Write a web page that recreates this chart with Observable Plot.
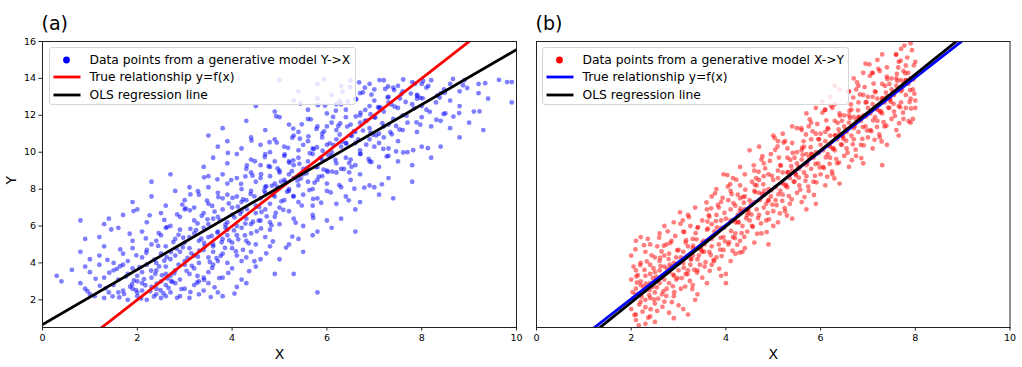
<!DOCTYPE html>
<html><head><meta charset="utf-8">
<script src="https://cdn.jsdelivr.net/npm/d3@7"></script>
<script src="https://cdn.jsdelivr.net/npm/@observablehq/plot@0.6"></script>
<style>
body{margin:0;background:#fff;font-family:"DejaVu Sans",sans-serif;}
#wrap{position:relative;width:1022px;height:367px;overflow:hidden;background:#fff;}
#wrap svg{position:absolute;top:0;}
.legend{position:absolute;box-sizing:border-box;border:1px solid #d6d6d6;border-radius:3px;background:rgba(255,255,255,0.8);}
.legend .row{position:absolute;left:0;height:16px;width:100%;}
.legend .row span{position:absolute;font-size:12.3px;line-height:16px;top:0;color:#000;white-space:nowrap;}
.legend .row svg{position:absolute;top:0;left:0;}
</style></head><body><div id="wrap"></div><script>
const xTicks=[0,2,4,6,8,10];
const yTicks=[2,4,6,8,10,12,14,16];
const xDomain=[0,10];
const yDomain=[0.5,16];

// panel (a): generative model Y->X
const pointsA=[
[0.8,2.9],[0.9,2.6],[1.0,2.3],[1.1,2.2],[1.3,2.1],[1.5,2.8],[1.6,2.4],[1.8,2.0],[1.9,2.6],[2.0,2.2],[2.1,2.9],[2.1,2.5],[2.2,2.0],[2.3,2.7],[2.4,2.3],[2.5,2.1],[2.6,2.8],[2.7,2.4],[2.8,2.9],[2.9,2.2],[3.0,2.6],[3.1,2.1],[3.2,2.8],[3.4,2.5],[3.5,2.9],[3.7,2.4],[3.8,2.2],[4.1,2.7],[4.3,2.9],[1.7,2.5],[2.4,2.6],[2.0,2.4],[2.6,2.2],[3.3,2.3],[1.4,2.4],[5.8,2.4],
[1.62,2.13],[2.27,2.46],[1.85,2.71],[2.55,2.35],[2.93,2.58],[1.33,2.62],[2.41,2.88],[2.08,2.07],[3.12,2.42],[1.72,2.31],[2.66,2.64],[3.55,2.15],[2.17,2.79],[1.48,2.19],[2.84,2.11],[3.26,2.93],[1.97,2.53],[2.35,2.18],[0.95,2.47],[2.74,2.97],[4.05,2.34],[1.21,2.76],[3.63,2.68],[2.49,2.52],[1.89,2.85],
[0.3,3.3],[0.4,3.0],[0.9,3.8],[1.0,3.5],[1.2,3.9],[1.3,3.2],[1.5,3.6],[1.6,3.1],[1.7,3.9],[1.8,3.4],[1.9,3.7],[2.0,3.0],[2.1,3.5],[2.2,3.9],[2.3,3.2],[2.4,3.6],[2.5,3.0],[2.6,3.8],[2.7,3.3],[2.8,3.6],[2.9,3.1],[3.0,3.9],[3.1,3.4],[3.2,3.7],[3.3,3.0],[3.5,3.5],[3.6,3.9],[3.8,3.2],[4.0,3.7],[4.2,3.1],[4.5,3.8],[5.3,3.4],[2.0,3.3],[2.6,3.4],[3.4,3.2],[4.9,3.4],
[2.14,3.12],[2.78,3.44],[1.57,3.68],[3.27,3.29],[2.46,3.81],[1.93,3.05],[3.04,3.57],[2.63,3.16],[1.41,3.47],[3.58,3.73],[2.29,3.58],[2.87,3.91],[3.41,3.08],[1.76,3.26],[2.52,3.33],[3.15,3.84],[1.12,3.14],[3.92,3.46],[2.05,3.77],[2.71,3.02],[4.36,3.55],[1.64,3.82],[3.73,3.18],[2.38,3.41],[0.62,3.62],
[0.8,4.6],[1.0,4.2],[1.3,4.9],[1.5,4.0],[1.7,4.5],[1.8,4.1],[1.9,4.8],[2.1,4.3],[2.2,4.7],[2.4,4.0],[2.5,4.5],[2.6,4.9],[2.7,4.2],[2.9,4.6],[3.0,4.1],[3.1,4.8],[3.2,4.4],[3.3,4.0],[3.4,4.7],[3.5,4.3],[3.6,4.9],[3.7,4.1],[3.8,4.5],[3.9,4.0],[4.0,4.8],[4.1,4.4],[4.2,4.1],[4.4,4.6],[4.6,4.2],[4.8,4.9],[5.0,4.2],[5.5,4.6],[2.8,4.4],[3.6,4.6],[4.3,4.3],[1.2,4.4],
[2.36,4.18],[3.14,4.52],[2.83,4.77],[3.67,4.26],[1.98,4.41],[3.42,4.88],[2.57,4.12],[4.08,4.63],[3.28,4.34],[2.71,4.59],[3.85,4.81],[1.64,4.73],[4.47,4.09],[3.06,4.27],[2.44,4.92],[3.53,4.05],[4.23,4.71],[2.19,4.55],[3.76,4.38],[2.96,4.85],[1.37,4.16],[4.72,4.52],[3.31,4.66],[2.62,4.31],[5.14,4.83],
[0.9,5.3],[1.2,5.4],[1.6,5.9],[1.9,5.2],[2.1,5.7],[2.3,5.0],[2.5,5.5],[2.6,5.9],[2.8,5.3],[2.9,5.8],[3.0,5.1],[3.2,5.6],[3.3,5.2],[3.4,5.9],[3.5,5.4],[3.6,5.0],[3.7,5.7],[3.8,5.3],[3.9,5.8],[4.0,5.1],[4.1,5.5],[4.2,5.9],[4.3,5.2],[4.4,5.6],[4.5,5.0],[4.7,5.4],[4.8,5.8],[5.2,5.0],[5.4,5.3],[5.7,5.5],[5.8,5.7],[6.1,5.9],[3.1,5.4],[3.9,5.5],[2.4,5.2],[6.6,5.7],
[2.76,5.13],[3.57,5.46],[3.24,5.77],[4.13,5.28],[2.45,5.62],[3.86,5.91],[2.97,5.37],[4.52,5.71],[3.41,5.08],[3.12,5.84],[4.27,5.49],[2.18,5.33],[4.86,5.16],[3.69,5.64],[2.63,5.94],[3.94,5.22],[4.61,5.87],[1.84,5.58],[3.35,5.31],[4.04,5.76],[2.87,5.52],[5.27,5.43],[3.78,5.12],[1.45,5.81],[4.35,5.06],
[0.8,6.3],[1.3,6.1],[1.4,6.4],[1.7,6.6],[2.0,6.9],[2.2,6.2],[2.5,6.7],[2.7,6.0],[2.9,6.5],[3.0,6.9],[3.2,6.3],[3.4,6.7],[3.5,6.1],[3.7,6.5],[3.8,6.9],[3.9,6.2],[4.0,6.6],[4.1,6.0],[4.2,6.8],[4.3,6.4],[4.4,6.1],[4.5,6.7],[4.6,6.3],[4.7,6.9],[4.9,6.5],[5.0,6.1],[5.2,6.8],[5.3,6.4],[5.5,6.0],[5.7,6.6],[6.0,6.3],[6.3,6.4],[6.6,6.9],[3.6,6.4],[4.8,6.2],
[3.27,6.14],[4.05,6.47],[3.63,6.78],[4.56,6.29],[2.84,6.63],[4.31,6.92],[3.48,6.36],[4.92,6.71],[3.86,6.07],[3.11,6.85],[4.73,6.52],[2.57,6.33],[5.34,6.18],[4.17,6.66],[3.02,6.96],[4.44,6.23],[5.08,6.88],[2.26,6.58],[3.74,6.31],[4.62,6.76],[3.36,6.55],[5.71,6.44],[4.28,6.13],[1.92,6.81],[4.83,6.04],
[1.9,7.3],[2.3,7.6],[2.6,7.1],[2.8,7.9],[3.0,7.4],[3.2,7.0],[3.3,7.7],[3.5,7.2],[3.7,7.8],[3.8,7.5],[4.0,7.0],[4.1,7.6],[4.2,7.3],[4.4,7.9],[4.5,7.1],[4.6,7.5],[4.7,7.8],[4.8,7.2],[4.9,7.6],[5.0,7.0],[5.1,7.4],[5.2,7.9],[5.4,7.3],[5.5,7.7],[5.7,7.1],[5.8,7.5],[6.0,7.9],[6.2,7.2],[6.4,7.6],[6.7,7.3],[7.1,7.7],[7.4,7.5],[4.3,7.4],[5.3,7.6],[3.9,7.7],
[4.12,7.05],[3.47,7.38],[5.29,7.62],[4.68,7.91],[3.93,7.22],[5.71,7.47],[4.39,7.73],[2.95,7.16],[5.04,7.34],[4.57,7.03],[3.71,7.57],[6.08,7.82],[4.86,7.68],[3.28,7.89],[5.47,7.11],[4.23,7.44],[5.88,7.26],[4.94,7.97],[3.58,7.09],[4.47,7.61],[6.46,7.39],[3.12,7.71],[5.16,7.86],[4.01,7.52],[5.63,7.95],
[2.3,8.4],[2.7,8.8],[3.1,8.1],[3.5,8.7],[3.5,8.1],[3.8,8.8],[3.9,8.3],[4.1,8.6],[4.2,8.0],[4.4,8.9],[4.5,8.4],[4.7,8.1],[4.8,8.7],[4.9,8.3],[5.0,8.9],[5.1,8.5],[5.2,8.0],[5.3,8.6],[5.4,8.2],[5.5,8.8],[5.6,8.4],[5.7,8.0],[5.9,8.7],[6.0,8.3],[6.2,8.9],[6.3,8.1],[6.5,8.5],[6.7,8.8],[6.9,8.2],[7.0,8.1],[7.3,8.6],[7.8,8.4],[4.6,8.6],[5.8,8.5],[5.2,8.8],
[5.38,8.46],[4.72,8.16],[6.11,8.95],[4.19,8.28],[5.83,8.68],[5.12,8.39],[3.69,8.53],[6.47,8.91],[4.95,8.12],[5.57,8.86],[4.43,8.73],[6.26,8.22],[3.98,8.49],[5.26,8.97],[6.79,8.08],[4.61,8.81],[5.74,8.35],[3.41,8.64],[4.84,8.18],[6.02,8.93],[5.45,8.57],[4.28,8.69],[7.16,8.26],[5.03,8.41],[6.58,8.02],
[3.4,9.2],[3.6,9.7],[3.9,9.4],[4.1,9.9],[4.3,9.1],[4.4,9.6],[4.6,9.3],[4.7,9.9],[4.9,9.5],[5.0,9.0],[5.1,9.8],[5.3,9.3],[5.4,9.7],[5.5,9.1],[5.6,9.5],[5.7,9.9],[5.8,9.2],[5.9,9.6],[6.0,9.0],[6.1,9.8],[6.2,9.4],[6.3,9.1],[6.4,9.7],[6.6,9.3],[6.7,9.9],[6.9,9.5],[7.1,9.2],[7.3,9.8],[7.5,9.5],[7.8,9.3],[8.2,9.7],[5.2,9.5],[6.5,9.6],[4.8,9.2],
[5.93,9.06],[5.21,9.43],[6.52,9.21],[4.69,9.74],[6.18,9.58],[5.64,9.95],[4.31,9.28],[6.88,9.64],[5.42,9.37],[6.03,9.84],[4.96,9.12],[6.71,9.91],[4.48,9.51],[5.77,9.19],[7.26,9.77],[5.11,9.88],[6.36,9.09],[3.91,9.96],[5.29,9.56],[6.47,9.41],[5.86,9.69],[4.77,9.24],[7.61,9.99],[5.58,9.15],[6.94,9.47],
[3.5,10.9],[3.7,10.3],[3.9,10.6],[4.2,10.2],[4.4,10.8],[4.6,10.4],[4.8,10.0],[4.9,10.7],[5.1,10.3],[5.3,10.9],[5.4,10.1],[5.6,10.6],[5.7,10.2],[5.9,10.8],[6.0,10.4],[6.1,10.0],[6.2,10.7],[6.3,10.3],[6.5,10.9],[6.6,10.5],[6.7,10.1],[6.9,10.7],[7.0,10.3],[7.2,10.8],[7.3,10.2],[7.5,10.6],[7.7,10.0],[8.0,10.3],[8.4,10.3],[8.8,10.8],[6.4,10.5],[5.5,10.4],[7.1,10.5],
[6.41,10.46],[5.72,10.16],[7.04,10.91],[5.18,10.24],[6.66,10.69],[6.14,10.39],[4.79,10.54],[7.37,10.97],[5.91,10.08],[6.53,10.89],[5.43,10.73],[7.19,10.18],[4.94,10.52],[6.27,10.96],[7.82,10.11],[5.61,10.86],[6.83,10.41],[4.41,10.63],[5.79,10.27],[6.97,10.94],[6.32,10.57],[5.27,10.79],[8.13,10.22],[6.06,10.48],[7.46,10.04],
[3.8,11.3],[4.3,11.7],[4.7,11.2],[5.0,11.9],[5.2,11.5],[5.4,11.1],[5.6,11.8],[5.8,11.4],[5.9,11.0],[6.1,11.6],[6.2,11.2],[6.4,11.9],[6.5,11.5],[6.6,11.1],[6.8,11.7],[6.9,11.3],[7.0,11.9],[7.1,11.0],[7.3,11.5],[7.4,11.8],[7.6,11.2],[7.7,11.6],[7.9,11.1],[8.0,11.9],[8.2,11.4],[8.4,11.7],[8.6,11.3],[9.0,11.6],[9.3,11.2],[6.0,11.4],[7.2,11.4],[6.7,11.6],
[6.92,11.06],[6.24,11.42],[7.53,11.23],[5.66,11.78],[7.17,11.57],[6.61,11.94],[5.29,11.28],[7.89,11.62],[6.43,11.39],[7.02,11.87],[5.94,11.13],[7.68,11.98],[5.47,11.51],[6.76,11.17],[8.31,11.76],[6.13,11.91],[7.34,11.09],[4.93,11.95],[6.28,11.56],[7.46,11.42],[6.84,11.71],[5.78,11.26],[8.67,11.93],[6.57,11.14],[7.97,11.49],
[4.5,12.5],[4.9,12.2],[5.3,12.8],[5.6,12.3],[5.8,12.9],[6.0,12.1],[6.2,12.6],[6.4,12.3],[6.6,12.9],[6.7,12.0],[6.9,12.5],[7.0,12.8],[7.2,12.2],[7.3,12.7],[7.5,12.4],[7.6,12.0],[7.8,12.6],[7.9,12.9],[8.1,12.3],[8.3,12.7],[8.5,12.1],[8.6,12.8],[8.8,12.5],[9.1,12.2],[9.4,12.9],[9.9,12.7],[7.1,12.4],[8.0,12.5],[6.3,12.6],
[7.43,12.47],[6.71,12.15],[8.02,12.92],[6.19,12.25],[7.66,12.72],[7.13,12.43],[5.81,12.55],[8.38,12.96],[6.92,12.06],[7.54,12.91],[6.44,12.74],[8.17,12.19],[5.96,12.53],[7.28,12.97],[8.79,12.12],[6.62,12.86],[7.84,12.38],[5.44,12.64],[6.81,12.29],[7.97,12.95],[7.36,12.58],[6.27,12.77],[9.22,12.21],[7.08,12.44],[8.46,12.07],
[5.0,13.9],[5.4,13.3],[5.8,13.7],[6.1,13.1],[6.3,13.6],[6.5,13.9],[6.7,13.2],[6.9,13.7],[7.0,13.4],[7.2,13.9],[7.3,13.0],[7.5,13.6],[7.6,13.3],[7.8,13.8],[7.9,13.1],[8.1,13.5],[8.2,13.9],[8.4,13.2],[8.6,13.7],[8.8,13.3],[8.9,13.9],[9.2,13.7],[9.2,13.2],[9.8,13.8],[9.9,13.8],[7.4,13.5],[8.0,13.7],[6.8,13.5],
[7.91,13.06],[7.23,13.43],[8.49,13.22],[6.68,13.78],[8.14,13.59],[7.61,13.94],[6.33,13.28],[8.87,13.63],[7.42,13.37],[8.03,13.86],[6.94,13.12],[8.66,13.97],[6.49,13.52],[7.77,13.18],[9.34,13.74],[7.11,13.91],[8.33,13.08],[5.94,13.96],[7.29,13.56],[8.47,13.41],[7.86,13.71],[6.76,13.24],[9.63,13.92],[7.57,13.15],[8.96,13.48]
];

// panel (b): generative model X->Y
const pointsB=[
[2.0,1.5],[2.0,3.1],[2.0,4.4],[2.1,0.9],[2.1,2.3],[2.1,5.2],[2.1,1.2],[2.1,3.6],[2.2,2.8],[2.2,1.9],[2.2,4.0],[2.2,5.4],[2.3,0.7],[2.3,2.5],[2.3,3.3],[2.3,1.6],[2.3,4.6],[2.4,2.1],[2.4,3.9],[2.4,1.1],[2.4,2.9],[2.4,5.0],[2.5,0.8],[2.5,3.5],[2.5,2.4],[2.5,4.3],[2.5,1.8],[2.2,3.0],[2.4,3.4],[2.1,2.6],[2.3,2.0],[2.45,2.7],[2.05,3.8],[2.35,5.3],
[2.03,2.41],[2.17,1.74],[2.28,3.62],[2.12,2.93],[2.38,2.26],[2.07,1.18],[2.46,3.17],[2.22,2.17],[2.33,4.08],[2.14,3.34],[2.41,1.49],[2.26,2.71],[2.09,4.73],[2.48,2.02],[2.19,3.88],[2.36,1.03],[2.04,2.08],[2.43,4.41],[2.31,2.88],[2.24,1.36],[2.11,3.27],[2.47,3.71],[2.16,0.61],[2.39,2.53],[2.27,4.96],
[2.55,1.4],[2.6,2.9],[2.6,4.1],[2.6,5.6],[2.65,3.3],[2.7,1.9],[2.7,3.8],[2.7,6.0],[2.75,2.6],[2.8,4.5],[2.8,1.3],[2.8,3.5],[2.85,5.2],[2.9,2.2],[2.9,4.0],[2.9,6.2],[2.95,3.1],[3.0,1.7],[3.0,4.7],[3.0,3.6],[2.6,3.6],[2.7,4.4],[2.8,2.9],[2.9,3.3],[2.75,5.0],[2.65,2.3],[2.95,4.3],[2.85,3.8],[2.55,4.9],[2.7,3.1],[2.9,1.0],
[2.53,3.24],[2.68,2.47],[2.79,4.21],[2.62,3.83],[2.88,2.73],[2.57,2.06],[2.96,3.94],[2.72,3.42],[2.83,5.08],[2.64,4.62],[2.91,2.41],[2.76,3.69],[2.59,5.37],[2.98,3.18],[2.69,4.93],[2.86,1.87],[2.54,2.68],[2.93,5.46],[2.81,3.91],[2.74,2.21],[2.61,4.27],[2.97,4.68],[2.66,1.62],[2.89,3.37],[2.77,5.71],
[3.05,2.6],[3.1,4.0],[3.1,5.7],[3.1,1.5],[3.15,3.4],[3.2,4.9],[3.2,6.6],[3.2,1.2],[3.25,3.9],[3.3,2.8],[3.3,5.3],[3.3,4.4],[3.35,7.0],[3.4,3.6],[3.4,5.9],[3.4,2.3],[3.45,4.8],[3.5,6.3],[3.5,3.2],[3.5,5.1],[3.1,4.6],[3.2,3.6],[3.3,4.8],[3.4,4.2],[3.15,5.1],[3.25,6.0],[3.45,3.9],[3.35,2.0],[3.05,4.3],[3.5,4.6],
[3.03,6.74],[3.18,4.37],[3.29,2.58],[3.12,5.67],[3.38,5.28],[3.07,3.18],[3.46,4.91],[3.22,6.48],[3.33,3.63],[3.14,2.72],[3.41,5.94],[3.26,4.19],[3.09,6.31],[3.48,4.68],[3.19,3.39],[3.36,5.61],[3.04,6.12],[3.43,4.41],[3.31,4.93],[3.24,3.02],[3.11,3.74],[3.47,4.84],[3.16,5.23],[3.39,3.47],[3.27,4.21],
[3.55,3.8],[3.6,5.2],[3.6,6.9],[3.6,2.9],[3.65,4.6],[3.7,6.1],[3.7,7.6],[3.7,3.9],[3.75,5.5],[3.8,4.3],[3.8,6.6],[3.8,8.0],[3.85,5.0],[3.9,3.3],[3.9,5.9],[3.9,7.3],[3.95,4.7],[3.95,8.8],[4.0,2.9],[4.0,6.4],[3.6,5.8],[3.7,4.9],[3.8,5.6],[3.9,6.3],[3.65,6.5],[3.75,4.1],[3.85,7.0],[3.55,5.0],[3.95,5.4],[3.7,5.3],[4.0,3.4],
[3.53,5.19],[3.68,4.43],[3.79,6.27],[3.62,5.86],[3.88,4.72],[3.57,4.04],[3.96,5.91],[3.72,5.44],[3.83,7.14],[3.64,6.59],[3.91,4.37],[3.76,5.71],[3.59,7.28],[3.98,5.17],[3.69,6.96],[3.86,3.68],[3.54,4.61],[3.93,7.52],[3.81,5.93],[3.74,4.16],[3.61,6.24],[3.97,6.71],[3.66,3.57],[3.89,5.36],[3.77,7.77],
[4.05,5.0],[4.1,6.3],[4.1,7.9],[4.1,4.1],[4.15,8.6],[4.2,5.6],[4.2,7.1],[4.2,4.5],[4.25,6.6],[4.3,8.2],[4.3,5.2],[4.3,7.5],[4.35,6.0],[4.4,4.8],[4.4,6.9],[4.4,8.8],[4.45,5.7],[4.5,7.4],[4.5,10.1],[4.5,6.3],[4.1,6.9],[4.2,6.2],[4.3,6.8],[4.4,7.6],[4.15,5.4],[4.25,7.7],[4.35,4.6],[4.05,7.4],[4.45,6.6],[4.3,9.2],
[4.03,8.76],[4.18,6.34],[4.29,4.56],[4.12,7.73],[4.38,7.26],[4.07,5.12],[4.46,6.92],[4.22,8.51],[4.33,5.62],[4.14,4.66],[4.41,7.97],[4.26,6.18],[4.09,8.27],[4.48,6.71],[4.19,5.34],[4.36,7.58],[4.04,8.13],[4.43,6.42],[4.31,6.94],[4.24,4.98],[4.11,5.73],[4.47,6.87],[4.16,7.24],[4.39,5.41],[4.27,6.22],
[4.55,6.0],[4.6,7.3],[4.6,9.0],[4.6,5.1],[4.65,8.2],[4.7,6.6],[4.7,10.3],[4.7,7.8],[4.75,5.6],[4.8,8.7],[4.8,7.0],[4.8,9.4],[4.85,6.3],[4.9,5.0],[4.9,8.0],[4.9,7.4],[4.95,9.9],[5.0,6.8],[5.0,8.5],[5.0,10.9],[4.6,7.9],[4.7,8.5],[4.8,7.7],[4.9,8.8],[4.65,6.9],[4.75,9.6],[4.85,7.2],[4.55,8.4],[4.95,7.6],[5.0,6.0],
[4.53,7.19],[4.68,6.43],[4.79,8.26],[4.62,7.84],[4.88,6.71],[4.57,5.96],[4.96,7.93],[4.72,7.41],[4.83,9.12],[4.64,8.59],[4.91,6.36],[4.76,7.73],[4.59,9.29],[4.98,7.16],[4.69,8.94],[4.86,5.67],[4.54,6.62],[4.93,9.53],[4.81,7.91],[4.74,6.14],[4.61,8.23],[4.97,8.72],[4.66,5.58],[4.89,7.37],[4.77,9.78],
[5.05,7.4],[5.1,8.6],[5.1,10.6],[5.1,6.2],[5.15,9.3],[5.2,7.7],[5.2,11.0],[5.2,8.9],[5.25,6.8],[5.3,9.7],[5.3,8.1],[5.3,10.2],[5.35,7.2],[5.4,9.0],[5.4,11.4],[5.4,6.4],[5.45,8.4],[5.5,10.0],[5.5,7.8],[5.5,9.4],[5.1,9.0],[5.2,8.3],[5.3,8.9],[5.4,10.5],[5.15,7.9],[5.25,10.6],[5.35,8.6],[5.05,8.1],[5.45,9.7],[5.5,11.3],
[5.03,10.77],[5.18,8.36],[5.29,6.57],[5.12,9.71],[5.38,9.24],[5.07,7.13],[5.46,8.92],[5.22,10.52],[5.33,7.62],[5.14,6.68],[5.41,9.96],[5.26,8.17],[5.09,10.31],[5.48,8.74],[5.19,7.36],[5.36,9.58],[5.04,10.13],[5.43,8.41],[5.31,8.92],[5.24,6.97],[5.11,7.71],[5.47,8.83],[5.16,9.27],[5.39,7.44],[5.27,8.23],
[5.55,8.2],[5.6,9.6],[5.6,11.2],[5.6,7.3],[5.65,10.3],[5.7,8.7],[5.7,12.1],[5.7,9.9],[5.75,7.9],[5.8,10.7],[5.8,9.1],[5.8,11.6],[5.85,8.4],[5.9,10.0],[5.9,12.4],[5.9,7.2],[5.95,9.4],[6.0,11.0],[6.0,8.8],[6.0,10.4],[5.6,10.1],[5.7,9.3],[5.8,9.9],[5.9,11.0],[5.65,8.9],[5.75,11.4],[5.85,9.7],[5.55,9.1],[5.95,10.7],[5.7,6.9],
[5.53,9.21],[5.68,8.45],[5.79,10.27],[5.62,9.86],[5.88,8.72],[5.57,7.97],[5.96,9.94],[5.72,9.42],[5.83,11.13],[5.64,10.59],[5.91,8.37],[5.76,9.73],[5.59,11.31],[5.98,9.17],[5.69,10.96],[5.86,7.68],[5.54,8.62],[5.93,11.53],[5.81,9.91],[5.74,8.14],[5.61,10.24],[5.97,10.71],[5.66,7.57],[5.89,9.36],[5.77,11.78],
[6.05,9.2],[6.1,10.6],[6.1,12.3],[6.1,8.2],[6.15,11.3],[6.2,9.7],[6.2,13.0],[6.2,10.9],[6.25,8.8],[6.3,11.7],[6.3,10.1],[6.3,12.6],[6.35,9.4],[6.4,11.0],[6.4,13.4],[6.4,8.3],[6.45,10.4],[6.5,12.0],[6.5,9.8],[6.5,11.4],[6.1,11.1],[6.2,10.3],[6.3,10.9],[6.4,12.1],[6.15,9.9],[6.25,12.4],[6.35,10.7],[6.05,10.1],[6.45,11.7],[6.3,13.6],
[6.03,12.76],[6.18,10.36],[6.29,8.58],[6.12,11.72],[6.38,11.23],[6.07,9.14],[6.46,10.92],[6.22,12.52],[6.33,9.63],[6.14,8.67],[6.41,11.97],[6.26,10.18],[6.09,12.29],[6.48,10.73],[6.19,9.37],[6.36,11.59],[6.04,12.14],[6.43,10.42],[6.31,10.93],[6.24,8.96],[6.11,9.72],[6.47,10.85],[6.16,11.26],[6.39,9.44],[6.27,10.22],
[6.55,10.2],[6.6,11.6],[6.6,13.3],[6.6,9.2],[6.65,12.3],[6.7,10.7],[6.7,14.0],[6.7,11.9],[6.75,9.8],[6.8,12.7],[6.8,11.1],[6.8,13.6],[6.85,10.4],[6.9,12.0],[6.9,14.3],[6.9,9.4],[6.95,11.4],[7.0,13.0],[7.0,10.8],[7.0,12.4],[6.6,12.0],[6.7,11.3],[6.8,11.9],[6.9,13.1],[6.65,10.9],[6.75,13.4],[6.85,11.7],[6.55,11.1],[6.95,12.7],[6.95,14.8],
[6.53,11.21],[6.68,10.43],[6.79,12.27],[6.62,11.86],[6.88,10.72],[6.57,9.97],[6.96,11.94],[6.72,11.41],[6.83,13.13],[6.64,12.59],[6.91,10.37],[6.76,11.73],[6.59,13.29],[6.98,11.17],[6.69,12.96],[6.86,9.68],[6.54,10.62],[6.93,13.53],[6.81,11.91],[6.74,10.14],[6.61,12.24],[6.97,12.71],[6.66,9.57],[6.89,11.36],[6.77,13.78],
[7.05,11.2],[7.1,12.6],[7.1,14.3],[7.1,10.2],[7.15,13.3],[7.2,11.7],[7.2,15.0],[7.2,12.9],[7.25,10.8],[7.3,13.7],[7.3,12.1],[7.3,9.3],[7.35,11.4],[7.4,13.0],[7.4,14.6],[7.4,10.4],[7.45,12.4],[7.5,14.0],[7.5,11.8],[7.5,13.4],[7.1,13.0],[7.2,12.3],[7.3,12.9],[7.4,14.1],[7.15,11.9],[7.25,14.4],[7.35,12.7],[7.05,12.1],[7.45,13.7],[7.3,15.3],
[7.03,14.76],[7.18,12.36],[7.29,10.58],[7.12,13.72],[7.38,13.23],[7.07,11.14],[7.46,12.92],[7.22,14.52],[7.33,11.63],[7.14,10.67],[7.41,13.97],[7.26,12.18],[7.09,14.29],[7.48,12.73],[7.19,11.37],[7.36,13.59],[7.04,14.14],[7.43,12.42],[7.31,12.93],[7.24,10.96],[7.11,11.72],[7.47,12.85],[7.16,13.26],[7.39,11.44],[7.27,12.22],
[7.55,12.2],[7.6,13.6],[7.6,15.3],[7.6,11.2],[7.65,10.9],[7.7,12.7],[7.7,15.6],[7.7,13.9],[7.75,11.8],[7.8,14.7],[7.8,13.1],[7.8,12.4],[7.85,14.3],[7.9,14.0],[7.9,15.9],[7.9,11.6],[7.95,13.4],[8.0,14.9],[8.0,12.8],[8.0,12.4],[7.6,14.0],[7.7,13.3],[7.8,13.9],[7.9,12.9],[7.65,14.9],[7.75,14.4],[7.85,13.7],[7.55,13.1],[7.95,11.8],[7.65,12.5],
[7.53,13.21],[7.68,12.43],[7.79,14.27],[7.62,13.86],[7.88,12.72],[7.57,11.97],[7.96,13.94],[7.72,13.41],[7.83,15.13],[7.64,14.59],[7.91,12.37],[7.76,13.73],[7.59,15.29],[7.98,13.17],[7.69,14.96],[7.86,11.68],[7.54,12.62],[7.93,15.53],[7.81,13.91],[7.74,12.14],[7.61,14.24],[7.97,14.71],[7.66,11.57],[7.89,13.36],[7.77,15.78]
];

// straight lines: y = slope * x + intercept
const lineLabelsA=["True relationship y=f(x)","OLS regression line"];
const lineSlopesA=[2.0,1.49];
const lineInterceptsA=[-2.0,0.66];
const lineColorsA=["#ff0000","#000000"];
const lineLabelsB=["True relationship y=f(x)","OLS regression line"];
const lineSlopesB=[2.0,2.06];
const lineInterceptsB=[-1.95,-2.26];
const lineColorsB=["#0000ff","#000000"];
const dotLabelA="Data points from a generative model Y->X";
const dotLabelB="Data points from a generative model X->Y";

function lineMarks(slopes,intercepts,colors){
  return slopes.map((s,i)=>Plot.line(xDomain.map(x=>({x,y:s*x+intercepts[i]})),
    {x:"x",y:"y",stroke:colors[i],strokeWidth:2.8,clip:true}));
}

function panel(o){
  return Plot.plot({
    width:o.width,height:367,
    marginLeft:o.ml,marginRight:o.mr,marginTop:41,marginBottom:40,
    x:{domain:xDomain},
    y:{domain:yDomain,axis:o.showY?undefined:null},
    style:{fontFamily:"DejaVu Sans",fontSize:"9.5px",color:"#000",background:"transparent",overflow:"visible"},
    marks:[
      Plot.dot(o.points,{x:d=>d[0],y:d=>d[1],r:2.4,fill:o.dotColor,fillOpacity:0.5,clip:true}),
      ...lineMarks(o.slopes,o.intercepts,o.colors),
      Plot.frame({stroke:"#222",strokeWidth:1}),
      Plot.axisX({ticks:xTicks,tickSize:3.5,tickPadding:3,label:null,stroke:"#222"}),
      o.showY?Plot.axisY({ticks:yTicks,tickSize:3.5,tickPadding:3,label:null,stroke:"#222"}):null,
      Plot.text([o.title],{frameAnchor:"top-left",text:d=>d,dx:-1,dy:-12,lineAnchor:"bottom",textAnchor:"start",fontSize:19}),
      Plot.text(["X"],{frameAnchor:"bottom",text:d=>d,dy:31,lineAnchor:"bottom",fontSize:14}),
      o.showY?Plot.text(["Y"],{frameAnchor:"left",text:d=>d,dx:-31,rotate:-90,lineAnchor:"middle",fontSize:14}):null
    ]
  });
}

const wrap=document.getElementById("wrap");
const svgA=panel({width:526,ml:42,mr:10,points:pointsA,dotColor:"#0000ff",slopes:lineSlopesA,intercepts:lineInterceptsA,colors:lineColorsA,showY:true,title:"(a)"});
svgA.style.left="0px";
wrap.appendChild(svgA);
const svgB=panel({width:502,ml:16,mr:12.5,points:pointsB,dotColor:"#ff0000",slopes:lineSlopesB,intercepts:lineInterceptsB,colors:lineColorsB,showY:false,title:"(b)"});
svgB.style.left="520px";
wrap.appendChild(svgB);

function legend(left,top,dotColor,lineColor,labels){
  const box=document.createElement("div");
  box.className="legend";
  box.style.left=left+"px";box.style.top=top+"px";box.style.width="307px";box.style.height="58px";
  const rowsY=[3.5,20.5,38.5];
  labels.forEach((lab,i)=>{
    const row=document.createElement("div");
    row.className="row";row.style.top=rowsY[i]+"px";
    const ns="http://www.w3.org/2000/svg";
    const s=document.createElementNS(ns,"svg");
    s.setAttribute("width","36");s.setAttribute("height","16");
    if(i===0){
      const c=document.createElementNS(ns,"circle");
      c.setAttribute("cx","16.5");c.setAttribute("cy","8");c.setAttribute("r","3.4");c.setAttribute("fill",dotColor);
      s.appendChild(c);
    }else{
      const l=document.createElementNS(ns,"line");
      l.setAttribute("x1","3.5");l.setAttribute("x2","30.5");l.setAttribute("y1","8");l.setAttribute("y2","8");
      l.setAttribute("stroke",i===1?lineColor:"#000");l.setAttribute("stroke-width","2.8");
      s.appendChild(l);
    }
    row.appendChild(s);
    const t=document.createElement("span");
    t.style.left="39.5px";t.textContent=lab;
    row.appendChild(t);
    box.appendChild(row);
  });
  wrap.appendChild(box);
}
legend(49,47,"#0000ff","#ff0000",[dotLabelA,lineLabelsA[0],lineLabelsA[1]]);
legend(542,47,"#ff0000","#0000ff",[dotLabelB,lineLabelsB[0],lineLabelsB[1]]);
</script></body></html>
